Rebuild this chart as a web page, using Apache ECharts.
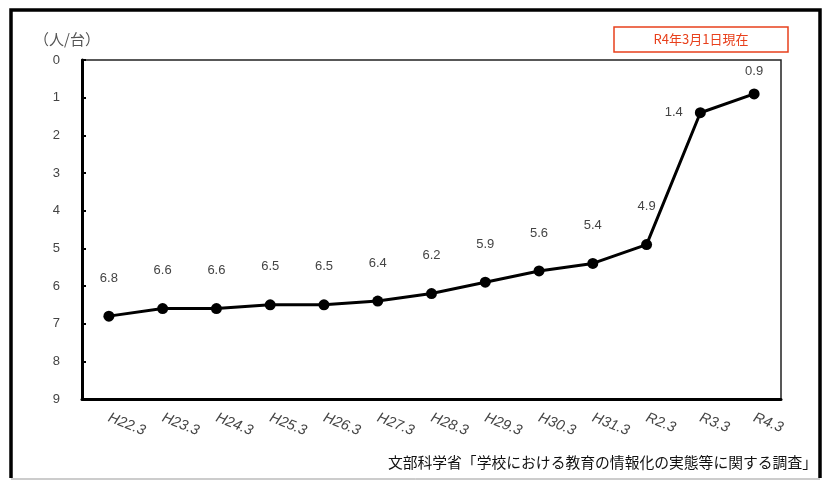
<!DOCTYPE html>
<html><head><meta charset="utf-8">
<script src="https://cdn.jsdelivr.net/npm/echarts@6/dist/echarts.min.js"></script>
<style>html,body{margin:0;padding:0;background:#fff}#c{width:827px;height:480px}</style>
</head><body><div id="c"></div>
<script>
const categories = ['H22.3','H23.3','H24.3','H25.3','H26.3','H27.3','H28.3','H29.3','H30.3','H31.3','R2.3','R3.3','R4.3'];
const values = [6.8,6.6,6.6,6.5,6.5,6.4,6.2,5.9,5.6,5.4,4.9,1.4,0.9];
const yTicks = [0,1,2,3,4,5,6,7,8,9];
const unitLabel = '（人/台）';
const noteLabel = 'R4年3月1日現在';
const sourceLabel = '文部科学省「学校における教育の情報化の実態等に関する調査」';

const JP = '"Noto Sans CJK JP", "Noto Sans", sans-serif';
const chart = echarts.init(document.getElementById('c'));
const data = values.map((v, i) => {
  const d = { value: v };
  if (i === values.length - 2) d.label = { position: 'left', distance: 12, offset: [0, 0] };
  if (i === values.length - 1) d.label = { position: 'top', distance: 10, offset: [0, 0] };
  return d;
});
chart.setOption({
  animation: false,
  grid: { left: 82, top: 60, right: 46, bottom: 81, show: true, borderColor: '#222', borderWidth: 1.5 },
  xAxis: {
    type: 'category', data: categories, boundaryGap: true, position: 'bottom',
    axisLine: { onZero: false, lineStyle: { color: '#000', width: 3 } },
    axisTick: { inside: true, length: 5, lineStyle: { color: '#000', width: 2 } },
    axisLabel: { rotate: -22, color: '#444', fontSize: 14.5, fontStyle: 'italic', fontFamily: 'Liberation Sans, Arial, sans-serif', margin: 18, interval: 0 },
    splitLine: { show: false }
  },
  yAxis: {
    type: 'value', inverse: true, min: yTicks[0], max: yTicks[yTicks.length - 1], interval: 1,
    axisLine: { show: true, lineStyle: { color: '#000', width: 3 } },
    axisTick: { show: true, inside: true, length: 4, lineStyle: { color: '#000', width: 2 } },
    axisLabel: { color: '#444', fontSize: 13, fontFamily: 'Liberation Sans, Arial, sans-serif', margin: 22 },
    splitLine: { show: false }
  },
  series: [{
    type: 'line', data: data,
    symbol: 'circle', symbolSize: 11,
    lineStyle: { color: '#000', width: 3 },
    itemStyle: { color: '#000' },
    label: { show: true, position: 'top', distance: 26, color: '#444', fontSize: 13, fontFamily: 'Liberation Sans, Arial, sans-serif', formatter: p => p.value.toFixed(1) }
  }],
  graphic: [
    { type: 'rect', shape: { x: 11, y: 10, width: 809, height: 475 }, style: { fill: 'none', stroke: '#000', lineWidth: 3.5 }, silent: true },
    { type: 'rect', shape: { x: 0, y: 478, width: 827, height: 2 }, style: { fill: '#fff' }, silent: true },
    { type: 'line', shape: { x1: 11, y1: 479, x2: 820, y2: 479 }, style: { stroke: '#999', lineWidth: 1 }, silent: true },
    { type: 'text', left: 34, top: 32, style: { text: unitLabel, font: '15px ' + JP, fill: '#555' } },
    { type: 'rect', shape: { x: 614, y: 27, width: 174, height: 25 }, style: { fill: '#fff', stroke: '#e8401c', lineWidth: 1.5 } },
    { type: 'text', x: 701, y: 39.5, style: { text: noteLabel, font: '13px ' + JP, fill: '#e8401c', align: 'center', verticalAlign: 'middle' } },
    { type: 'text', right: 10, top: 455, style: { text: sourceLabel, font: '14.8px ' + JP, fill: '#111' } }
  ]
});
</script></body></html>
